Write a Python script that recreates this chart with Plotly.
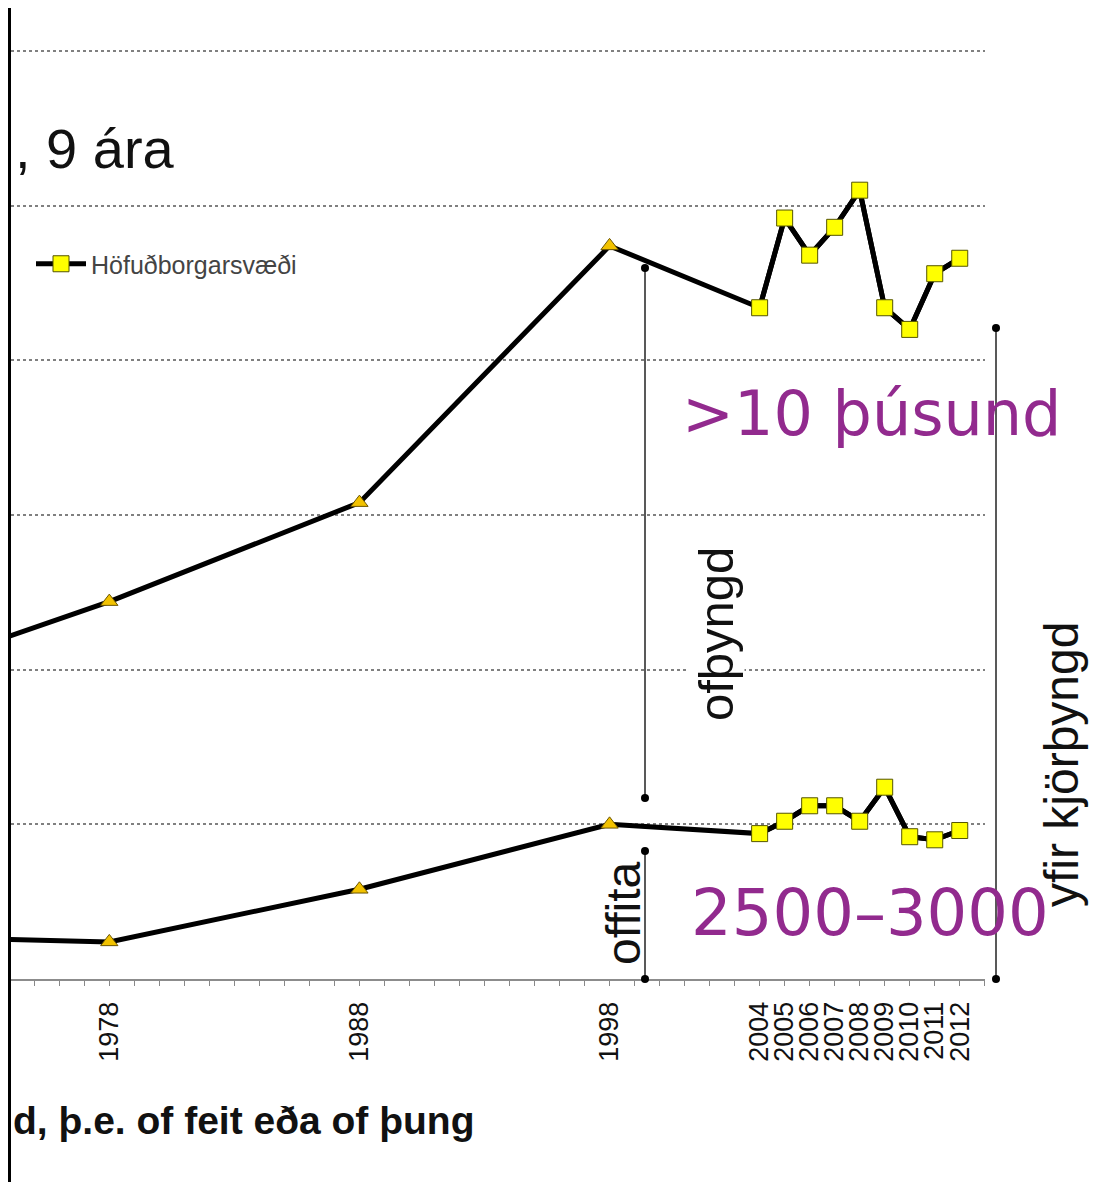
import plotly.graph_objects as go

# ---- data ----
years_early = [1968, 1978, 1988, 1998]
years_recent = [2004, 2005, 2006, 2007, 2008, 2009, 2010, 2011, 2012]
overweight_early = [9.4, 12.2, 15.4, 23.7]
overweight_recent = [21.7, 24.6, 23.4, 24.3, 25.5, 21.7, 21.0, 22.8, 23.3]
obese_early = [1.4, 1.2, 2.9, 5.0]
obese_recent = [4.7, 5.1, 5.6, 5.6, 5.1, 6.2, 4.6, 4.5, 4.8]
tick_years = [1978, 1988, 1998, 2004, 2005, 2006, 2007, 2008, 2009, 2010, 2011, 2012]
series_name = "Höfuðborgarsvæði"

OFF = 8  # page body margin
W, H = 1100, 1174
ML, MR, MT, MB = 3, 123, 0, 203
PW = W - ML - MR
PH = H - MT - MB


def px(x):  # page x -> paper
    return (x - OFF - ML) / PW


def py(y):  # page y -> paper
    return (H - MB - (y - OFF)) / PH


fig = go.Figure()
line_style = dict(color="black", width=5)
tri = dict(symbol="triangle-up", size=15, color="#F2C200", line=dict(color="#6b5500", width=1))
sq = dict(symbol="square", size=16, color="#FFFF00", line=dict(color="#555500", width=1))

for ys_e, ys_r, leg in [(overweight_early, overweight_recent, True), (obese_early, obese_recent, False)]:
    fig.add_trace(go.Scatter(x=years_early + years_recent, y=ys_e + ys_r, mode="lines",
                             line=line_style, showlegend=False, hoverinfo="skip"))
    fig.add_trace(go.Scatter(x=years_early, y=ys_e, mode="markers", marker=tri, showlegend=False))
    fig.add_trace(go.Scatter(x=years_recent, y=ys_r, mode="lines+markers", line=line_style,
                             marker=sq, name=series_name, showlegend=leg))

shapes = []
# black band of the cropped screenshot (left edge)
shapes.append(dict(type="rect", xref="paper", yref="paper", x0=px(OFF - 2), x1=px(11), y0=py(H + 20), y1=py(0),
                   fillcolor="black", line=dict(width=0), layer="above"))

# brackets
for (bx, by0, by1) in [(645, 268, 798), (645, 851, 979), (996, 328, 979)]:
    shapes.append(dict(type="line", xref="paper", yref="paper", x0=px(bx), x1=px(bx), y0=py(by0), y1=py(by1),
                       line=dict(color="#222", width=1.5), layer="above"))
    for yy in (by0, by1):
        shapes.append(dict(type="circle", xref="paper", yref="paper",
                           x0=px(bx - 4), x1=px(bx + 4), y0=py(yy + 4), y1=py(yy - 4),
                           fillcolor="black", line=dict(width=0), layer="above"))

purple = "#922A8E"
annotations = [
    dict(text=", 9 ára", x=px(13), y=py(148), xanchor="left", yanchor="middle",
         font=dict(family="Liberation Sans, Arial", size=56, color="#111")),
    dict(text="<b>d, þ.e. of feit eða of þung</b>", x=px(11), y=py(1120), xanchor="left", yanchor="middle",
         font=dict(family="Liberation Sans, Arial", size=39, color="#111")),
    dict(text="ofþyngd", x=px(716), y=py(634), textangle=-90, xanchor="center", yanchor="middle",
         bgcolor="white", font=dict(family="Liberation Sans, Arial", size=49, color="#111")),
    dict(text="offita", x=px(623), y=py(913), textangle=-90, xanchor="center", yanchor="middle",
         font=dict(family="Liberation Sans, Arial", size=48, color="#111")),
    dict(text="yfir kjörþyngd", x=px(1061), y=py(765), textangle=-90, xanchor="center", yanchor="middle",
         font=dict(family="Liberation Sans, Arial", size=48, color="#111")),
    dict(text=">10 þúsund", x=px(871), y=py(413), xanchor="center", yanchor="middle",
         font=dict(family="DejaVu Sans", size=62, color=purple)),
    dict(text="2500–3000", x=px(870), y=py(913), xanchor="center", yanchor="middle",
         font=dict(family="DejaVu Sans", size=64, color=purple)),
]
for a in annotations:
    a.update(xref="paper", yref="paper", showarrow=False)

fig.update_layout(
    width=W, height=H,
    margin=dict(l=ML, r=MR, t=MT, b=MB, pad=0),
    paper_bgcolor="white", plot_bgcolor="white",
    shapes=shapes, annotations=annotations,
    legend=dict(x=px(31), y=py(264), xanchor="left", yanchor="middle", bgcolor="rgba(0,0,0,0)",
                itemwidth=50, font=dict(family="Liberation Sans, Arial", size=25, color="#444")),
    xaxis=dict(range=[1974.07, 2013.01], tickvals=tick_years, ticktext=[str(t) for t in tick_years],
               tickangle=-90, ticks="outside", ticklen=5, tickcolor="#888", showgrid=False,
               showline=True, linecolor="#8c8c8c", linewidth=2, zeroline=False,
               ticklabelstandoff=5,
               minor=dict(dtick=1, tick0=1974, ticks="outside", ticklen=5, tickcolor="#888"),
               tickfont=dict(family="Liberation Sans, Arial", size=27, color="#111")),
    yaxis=dict(range=[0, 31.39], dtick=5, showgrid=True, gridcolor="#808080", griddash="dot", gridwidth=1.5,
               showticklabels=False, ticks="", zeroline=False, showline=False),
)

fig.write_html("out.html")
